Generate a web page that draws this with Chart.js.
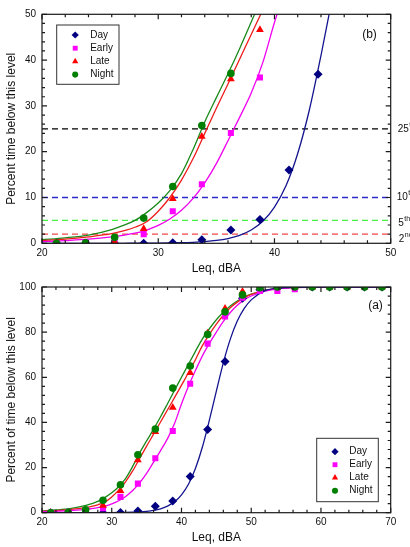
<!DOCTYPE html>
<html>
<head>
<meta charset="utf-8">
<script src="https://cdn.jsdelivr.net/npm/chart.js@4.4.1/dist/chart.umd.min.js"></script>
<style>
  html, body { margin: 0; padding: 0; background: #fff; }
  #wrap { position: relative; width: 410px; height: 547px; overflow: hidden; }
  canvas { position: absolute; left: 0; }
  #chartB { top: 0; }
  #chartA { top: 275px; }
</style>
</head>
<body>
<div id="wrap">
  <canvas id="chartB" width="410" height="275"></canvas>
  <canvas id="chartA" width="410" height="272"></canvas>
</div>
<script>
// measured bins (dBA) and percent of time below each level
const levels = [21.25, 23.75, 26.25, 28.75, 31.25, 33.75, 36.25, 38.75, 41.25, 43.75,
                46.25, 48.75, 51.25, 53.75, 56.25, 58.75, 61.25, 63.75, 66.25, 68.75];
const dayPct   = [0, 0, 0, 0, 0.1, 0.8, 2.9, 5.2, 16, 36.9, 67, 95, 98.8, 99.5, 100, 100, 100, 100, 100, 100];
const earlyPct = [0, 0.1, 0.9, 2.0, 7.0, 12.9, 24.1, 36.2, 57.1, 74.9, 86.9, 95.3, 98.2, 98.2, 99, 100, 100, 100, 100, 100];
const latePct  = [0, 0, 0.3, 3.2, 9.7, 23.3, 35.9, 46.6, 62, 79.5, 90.5, 98, 100, 100, 100, 100, 100, 100, 100, 100];
const nightPct = [0, 0.1, 1.3, 5.5, 12.4, 25.7, 37.1, 55.2, 65, 79, 89, 96.5, 99.7, 100, 100, 100, 100, 100, 100, 100];

// fitted curves
const fitLevels = [20, 22, 24, 26, 27, 28, 29, 30, 31, 32, 33, 34, 35, 36, 37, 38, 39, 40, 41, 42,
                   43, 44, 45, 46, 47, 48, 49, 50, 52, 54, 56, 60, 70];
const dayFit   = [0, 0, 0, 0, 0, 0.02, 0.03, 0.05, 0.08, 0.13, 0.22, 0.37, 0.62, 1.04, 1.74, 2.9, 4.8, 7.9, 12.6, 19.6,
                  29.1, 41, 53.9, 66.4, 76.9, 84.9, 90.5, 94.3, 98.4, 99.5, 99.9, 100, 100];
const earlyFit = [0.35, 0.6, 0.9, 1.4, 1.75, 2.2, 2.9, 3.9, 5.3, 7.2, 9.8, 13.2, 17.4, 22.4, 27.5, 32.8, 39.5, 48.2, 56, 63,
                  69.5, 75, 80, 84.8, 88.7, 91.9, 94.3, 96, 98.2, 99.3, 99.7, 100, 100];
const lateFit  = [0.6, 0.9, 1.4, 2.1, 2.7, 3.5, 4.7, 7.0, 10.0, 13.8, 18.5, 24, 29.5, 34.8, 40.2, 45.6, 51, 56.5, 62, 67.8,
                  74, 79, 83.5, 87.5, 90.8, 93.3, 95.2, 96.7, 98.5, 99.4, 99.8, 100, 100];
const nightFit = [0.8, 1.2, 1.8, 3.0, 3.9, 5.0, 6.7, 8.8, 11.5, 15.2, 20.5, 26.5, 31.8, 37, 42.5, 48.3, 54.2, 60, 65.8, 71.5,
                  77, 81.5, 85.5, 88.8, 91.6, 93.8, 95.5, 96.8, 98.5, 99.4, 99.8, 100, 100];

// reference percentile lines in panel (b)
const pctLines  = [25, 10, 5, 2];
const pctText   = ['25', '10', '5', '2'];
const pctSuffix = ['th', 'th', 'th', 'nd'];

Chart.defaults.font.family = '"Liberation Sans", Arial, sans-serif';
Chart.defaults.color = '#111';

const series = [
  { name: 'Day',   pct: dayPct,   fit: dayFit,   color: '#000080', line: '#14148f', style: 'rectRot',  r: 4.5, order: 3 },
  { name: 'Early', pct: earlyPct, fit: earlyFit, color: '#ff00ff', line: '#f000f0', style: 'rect',     r: 4.3, order: 2 },
  { name: 'Late',  pct: latePct,  fit: lateFit,  color: '#ff0000', line: '#ee1c1c', style: 'triangle', r: 4.5, order: 1 },
  { name: 'Night', pct: nightPct, fit: nightFit, color: '#008000', line: '#1a8a1a', style: 'circle',   r: 3.8, order: 0 }
];
const pctColors = ['#000000', '#2a2ac8', '#44ee44', '#f04848'];

function buildDatasets(withLines) {
  const ds = [];
  series.forEach(s => {
    ds.push({
      label: s.name,
      data: levels.map((x, i) => ({ x, y: s.pct[i] })),
      showLine: false, pointStyle: s.style, pointRadius: s.r,
      backgroundColor: s.color, borderColor: s.color, borderWidth: 0,
      order: s.order, clip: 0
    });
    ds.push({
      label: s.name + ' fit',
      data: fitLevels.map((x, i) => ({ x, y: s.fit[i] })),
      showLine: true, pointRadius: 0, borderColor: s.line, borderWidth: 1.3,
      cubicInterpolationMode: 'monotone', order: 10, clip: 0
    });
  });
  if (withLines) {
    pctLines.forEach((p, i) => {
      ds.push({
        label: pctText[i] + pctSuffix[i],
        data: [{ x: 20, y: p }, { x: 50, y: p }],
        showLine: true, pointRadius: 0, borderColor: pctColors[i], borderWidth: 1.3,
        borderDash: [6, 4], order: 20, clip: 0
      });
    });
  }
  return ds;
}

const decor = {
  id: 'decor',
  afterDraw(chart, args, o) {
    const { ctx, chartArea: a } = chart;
    const x = chart.scales.x, y = chart.scales.y;
    ctx.save();
    ctx.strokeStyle = '#1a1a1a';
    ctx.lineWidth = 1.2;
    ctx.strokeRect(a.left, a.top, a.right - a.left, a.bottom - a.top);

    // inward ticks on all four sides
    ctx.beginPath();
    for (let v = x.min; v <= x.max + 1e-6; v += o.xMinor) {
      const px = x.getPixelForValue(v);
      const len = Math.abs(((v - x.min) % o.xMajor)) < 1e-6 ? 5 : 3;
      ctx.moveTo(px, a.bottom); ctx.lineTo(px, a.bottom - len);
      ctx.moveTo(px, a.top); ctx.lineTo(px, a.top + len);
    }
    for (let v = y.min; v <= y.max + 1e-6; v += o.yMinor) {
      const py = y.getPixelForValue(v);
      const len = Math.abs((v % o.yMajor)) < 1e-6 ? 5 : 3;
      ctx.moveTo(a.left, py); ctx.lineTo(a.left + len, py);
      ctx.moveTo(a.right, py); ctx.lineTo(a.right - len, py);
    }
    ctx.stroke();

    // panel label
    ctx.fillStyle = '#111';
    ctx.font = '12px "Liberation Sans", Arial, sans-serif';
    ctx.textAlign = 'center';
    ctx.textBaseline = 'middle';
    ctx.fillText(o.panel.text, o.panel.x, o.panel.y);

    // percentile labels on the right
    if (o.pctLabels) {
      pctLines.forEach((p, i) => {
        const py = y.getPixelForValue(p) + o.pctLabels.dy[i];
        const lx = a.right + o.pctLabels.dx[i];
        ctx.textAlign = 'left';
        ctx.font = '10px "Liberation Sans", Arial, sans-serif';
        ctx.fillText(pctText[i], lx, py);
        const w = ctx.measureText(pctText[i]).width;
        ctx.font = '7px "Liberation Sans", Arial, sans-serif';
        ctx.fillText(pctSuffix[i], lx + w + 0.5, py - 4);
      });
    }

    // legend box
    const L = o.legend;
    ctx.lineWidth = 1;
    ctx.strokeStyle = '#333';
    ctx.strokeRect(L.left, L.top, L.width, L.height);
    series.forEach((s, i) => {
      const cy = L.top + L.firstRow + i * L.rowGap;
      ctx.fillStyle = s.color;
      ctx.strokeStyle = s.color;
      Chart.helpers.drawPoint(ctx, { pointStyle: s.style, radius: s.r * 0.8, rotation: 0, borderWidth: 0 },
                              L.left + L.markerX, cy);
      ctx.fillStyle = '#111';
      ctx.font = '10px "Liberation Sans", Arial, sans-serif';
      ctx.textAlign = 'left';
      ctx.textBaseline = 'middle';
      ctx.fillText(s.name, L.left + L.textX, cy);
    });
    ctx.restore();
  }
};

function makeChart(id, cfg) {
  return new Chart(document.getElementById(id), {
    type: 'scatter',
    data: { datasets: buildDatasets(cfg.withLines) },
    options: {
      responsive: false,
      animation: false,
      layout: { padding: cfg.padding },
      plugins: { legend: { display: false }, tooltip: { enabled: false }, decor: cfg.decor },
      scales: {
        x: {
          type: 'linear', min: cfg.xMin, max: cfg.xMax,
          grid: { display: false, drawTicks: false, tickLength: 0 },
          border: { display: false },
          ticks: { stepSize: 10, padding: 4, font: { size: 10 } },
          title: { display: true, text: 'Leq, dBA', font: { size: 12, lineHeight: 1 },
                   padding: { top: 0, bottom: cfg.xTitlePad } },
          afterFit: s => { s.height = cfg.xHeight; }
        },
        y: {
          type: 'linear', min: 0, max: cfg.yMax,
          grid: { display: false, drawTicks: false, tickLength: 0 },
          border: { display: false },
          ticks: { stepSize: cfg.yStep, padding: 6, font: { size: 10 } },
          title: { display: true, text: cfg.yTitle, font: { size: 12, lineHeight: 1 },
                   padding: { top: 6, bottom: 0 } },
          afterFit: s => { s.width = 42; }
        }
      }
    },
    plugins: [decor]
  });
}

// panel (b): zoom of the low end
makeChart('chartB', {
  withLines: true, xMin: 20, xMax: 50, yMax: 50, yStep: 10,
  yTitle: 'Percent time below this level',
  padding: { top: 14.3, right: 19.3, bottom: 0, left: 0 },
  xHeight: 31.7, xTitlePad: 0,
  decor: {
    xMinor: 2, xMajor: 10, yMinor: 2, yMajor: 10,
    panel: { text: '(b)', x: 369.5, y: 34.5 },
    pctLabels: { dx: [7, 6, 7.5, 8], dy: [0, 0, 3, 5] },
    legend: { left: 56.7, top: 25, width: 62.3, height: 59.3, firstRow: 10, rowGap: 13.2, markerX: 18.5, textX: 33.5 }
  }
});

// panel (a): full range
makeChart('chartA', {
  withLines: false, xMin: 20, xMax: 70, yMax: 100, yStep: 20,
  yTitle: 'Percent of time below this level',
  padding: { top: 9.3, right: 19.3, bottom: 0, left: 0 },
  xHeight: 34.3, xTitlePad: 3,
  decor: {
    xMinor: 2, xMajor: 10, yMinor: 4, yMajor: 20,
    panel: { text: '(a)', x: 375.5, y: 31 },
    pctLabels: null,
    legend: { left: 316.7, top: 163.3, width: 61.6, height: 63.4, firstRow: 13.4, rowGap: 13, markerX: 18.3, textX: 32.6 }
  }
});
</script>
</body>
</html>
